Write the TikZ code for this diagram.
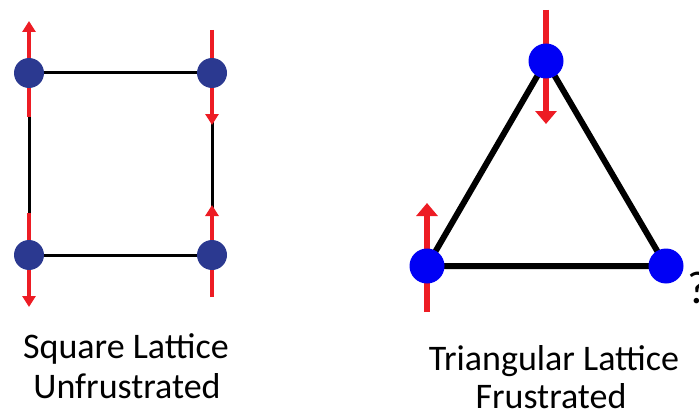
\documentclass[tikz,border=0pt]{standalone}
\usepackage{fontspec}
\setmainfont{Carlito}
\usetikzlibrary{arrows.meta}
\definecolor{spinred}{RGB}{237,28,36}
\definecolor{darkdot}{RGB}{43,57,144}
\definecolor{bluedot}{RGB}{0,0,245}
\tikzset{
  sqedge/.style={draw=black, line width=3pt},
  triedge/.style={draw=black, line width=6pt},
  sqspin/.style={draw=spinred, line width=4.5pt, -{Triangle[width=13pt,length=11pt]}},
  trispin/.style={draw=spinred, line width=6pt, -{Triangle[width=21pt,length=13pt]}},
  sqdot/.style={circle, fill=darkdot, minimum size=30pt, inner sep=0pt},
  tridot/.style={circle, fill=bluedot, minimum size=35pt, inner sep=0pt},
  lbl/.style={font=\fontsize{36pt}{40pt}\selectfont, align=center, inner sep=0pt}
}
\begin{document}
\begin{tikzpicture}[x=1pt,y=-1pt]
\useasboundingbox (0,0) rectangle (699,412);
% square lattice coordinates
\coordinate (s1) at (29,73);
\coordinate (s2) at (212,73);
\coordinate (s3) at (29,255);
\coordinate (s4) at (212,255);
\draw[sqedge] (s1) -- (s2) -- (s4) -- (s3) -- cycle;
\coordinate (a1t) at (29,117);  \coordinate (a1h) at (29,21);
\coordinate (a3t) at (29,213);  \coordinate (a3h) at (29,307);
\coordinate (a2t) at (212,30);  \coordinate (a2h) at (212,125);
\coordinate (a4t) at (212,297); \coordinate (a4h) at (212,205);
\draw[sqspin] (a1t) -- (a1h);
\draw[sqspin] (a3t) -- (a3h);
\draw[sqspin] (a2t) -- (a2h);
\draw[sqspin] (a4t) -- (a4h);
\node[sqdot] (n1) at (s1) {};
\node[sqdot] (n2) at (s2) {};
\node[sqdot] (n3) at (s3) {};
\node[sqdot] (n4) at (s4) {};
% triangular lattice
\coordinate (t1) at (546,61);
\coordinate (t2) at (427,266);
\coordinate (t3) at (666,266);
\draw[triedge, line join=round] (t1) -- (t2) -- (t3) -- cycle;
\coordinate (b1t) at (546,10);  \coordinate (b1h) at (546,124);
\coordinate (b2t) at (427,312); \coordinate (b2h) at (427,203);
\draw[trispin] (b1t) -- (b1h);
\draw[trispin] (b2t) -- (b2h);
\node[tridot] (m1) at (t1) {};
\node[tridot] (m2) at (t2) {};
\node[tridot] (m3) at (t3) {};
\node[font=\fontsize{46pt}{50pt}\selectfont, inner sep=0pt, anchor=base west] (q) at (687,303) {?};
% labels
\node[lbl, anchor=base] (l1) at (126,358) {Square Lattice};
\node[lbl, anchor=base] (l2) at (127,398) {Unfrustrated};
\node[lbl, anchor=base] (l3) at (554,370) {Triangular Lattice};
\node[lbl, anchor=base] (l4) at (551,408) {Frustrated};
\end{tikzpicture}
\end{document}
